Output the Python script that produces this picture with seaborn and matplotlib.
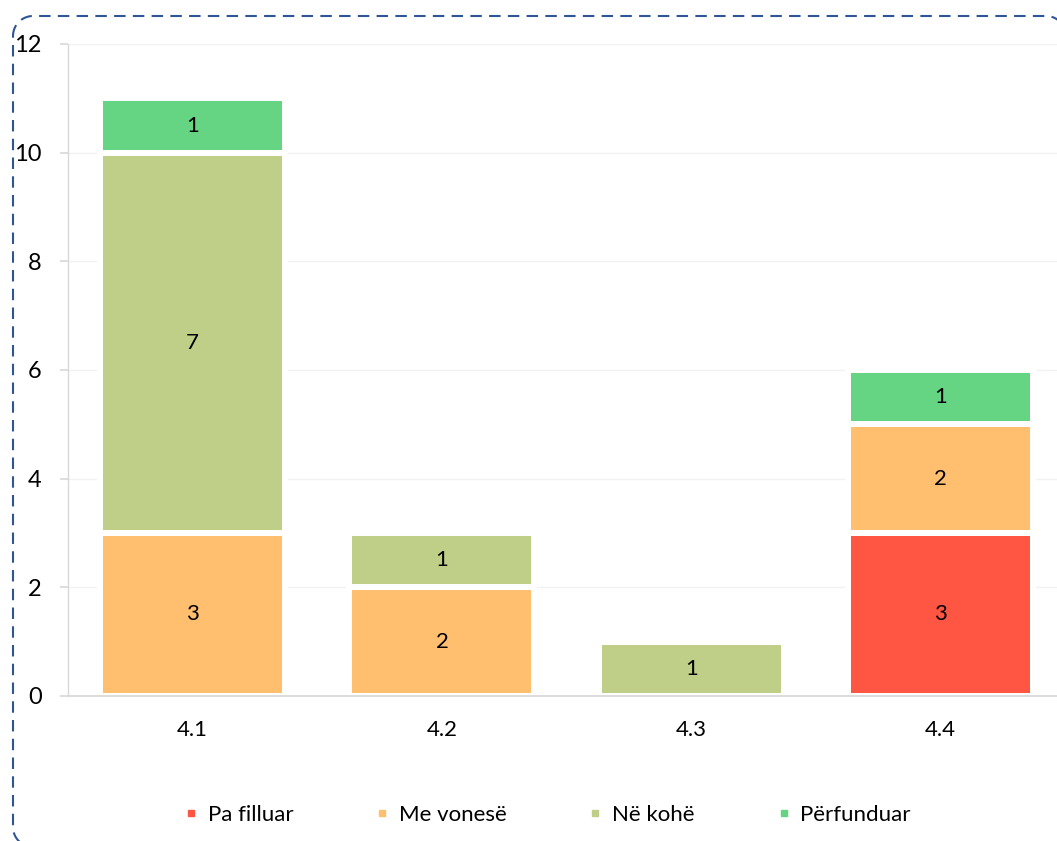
import matplotlib
matplotlib.use("Agg")
import matplotlib.pyplot as plt
import seaborn as sns
import pandas as pd
import numpy as np
from matplotlib.lines import Line2D
from matplotlib.transforms import IdentityTransform

categories = ["4.1", "4.2", "4.3", "4.4"]
series_names = ["Pa filluar", "Me vonesë", "Në kohë", "Përfunduar"]
pa_filluar = [0, 0, 0, 3]
me_vonese = [3, 2, 0, 2]
ne_kohe = [7, 1, 1, 0]
perfunduar = [1, 0, 0, 1]
colors = ["#FF5543", "#FFBF6F", "#BFCF88", "#65D483"]
y_ticks = [0, 2, 4, 6, 8, 10, 12]

sns.set_theme(style="white")
plt.rcParams['font.family'] = ['Lato', 'DejaVu Sans']
plt.rcParams['text.color'] = 'black'

FS = 16
W, H = 1057, 841
fig = plt.figure(figsize=(W / 100, H / 100), dpi=100)
ax_left = 68 / W
ax_bottom = (H - 696) / H
ax_height = (696 - 44) / H
ax = fig.add_axes([ax_left, ax_bottom, 1 - ax_left, ax_height])

all_series = [pa_filluar, me_vonese, ne_kohe, perfunduar]
bottoms = [0] * len(categories)
for name, vals, col in zip(series_names, all_series, colors):
    df = pd.DataFrame({"cat": categories, "val": vals, "bottom": bottoms})
    nz = df[df["val"] > 0]
    if len(nz):
        sns.barplot(data=nz, x="cat", y="val", order=categories, bottom=nz["bottom"].values,
                    color=col, width=0.742, saturation=1, edgecolor="white", linewidth=4.3, ax=ax)
        for _, r in nz.iterrows():
            i = categories.index(r["cat"])
            ax.text(i, r["bottom"] + r["val"] / 2, f"{int(r['val'])}", ha="center", va="center",
                    fontsize=FS, color="black")
    bottoms = [b + v for b, v in zip(bottoms, vals)]

ax.set_ylim(0, 12)
ax.set_yticks(y_ticks)
ax.set_yticklabels([str(t) for t in y_ticks], fontsize=FS + 1)
xpix_per_cat = 249.3
ax.set_xlim(-0.5, -0.5 + (W - 68) / xpix_per_cat)
ax.set_xticks(range(len(categories)))
ax.set_xticklabels(categories, fontsize=FS)
ax.set_xlabel("")
ax.set_ylabel("")
ax.yaxis.grid(True, color="#F2F2F2", linewidth=1)
ax.set_axisbelow(True)
for s in ["top", "right"]:
    ax.spines[s].set_visible(False)
ax.spines["left"].set_color("#D9D9D9")
ax.spines["bottom"].set_color("#D9D9D9")
ax.spines["left"].set_linewidth(1)
ax.spines["bottom"].set_linewidth(1.3)
ax.tick_params(axis="y", left=True, length=6, color="#D9D9D9", pad=13, labelcolor="black")
ax.tick_params(axis="x", bottom=False, length=0, pad=17, labelcolor="black")

handles = [Line2D([0], [0], marker="s", linestyle="", markersize=5, markerfacecolor=c,
                  markeredgecolor=c) for c in colors]
fig.legend(handles, series_names, loc="center", bbox_to_anchor=(0.518, (H - 815) / H), ncol=4,
           frameon=False, fontsize=FS, handlelength=0.6, handletextpad=0.45, columnspacing=3.7)

# dashed rounded frame as a polyline in pixel coordinates (y up from bottom)
x0, x1 = 13, 1066
y0, y1 = -6, H - 16
r = 20
t = np.linspace(0, np.pi / 2, 16)
xs, ys = [], []
# top-left corner
xs += list(x0 + r - r * np.cos(t)); ys += list(y1 - r + r * np.sin(t))
# top-right corner
xs += list(x1 - r + r * np.sin(t)); ys += list(y1 - r + r * np.cos(t))
# bottom-right corner
xs += list(x1 - r + r * np.cos(t)); ys += list(y0 + r - r * np.sin(t))
# bottom-left corner
xs += list(x0 + r - r * np.sin(t)); ys += list(y0 + r - r * np.cos(t))
xs.append(xs[0]); ys.append(ys[0])
frame = Line2D(xs, ys, transform=IdentityTransform(), color="#2F5597", linewidth=1.5,
               linestyle=(0, (5.5, 3.5)), solid_capstyle="butt", dash_capstyle="butt")
fig.add_artist(frame)

fig.savefig("out.png", dpi=100)
